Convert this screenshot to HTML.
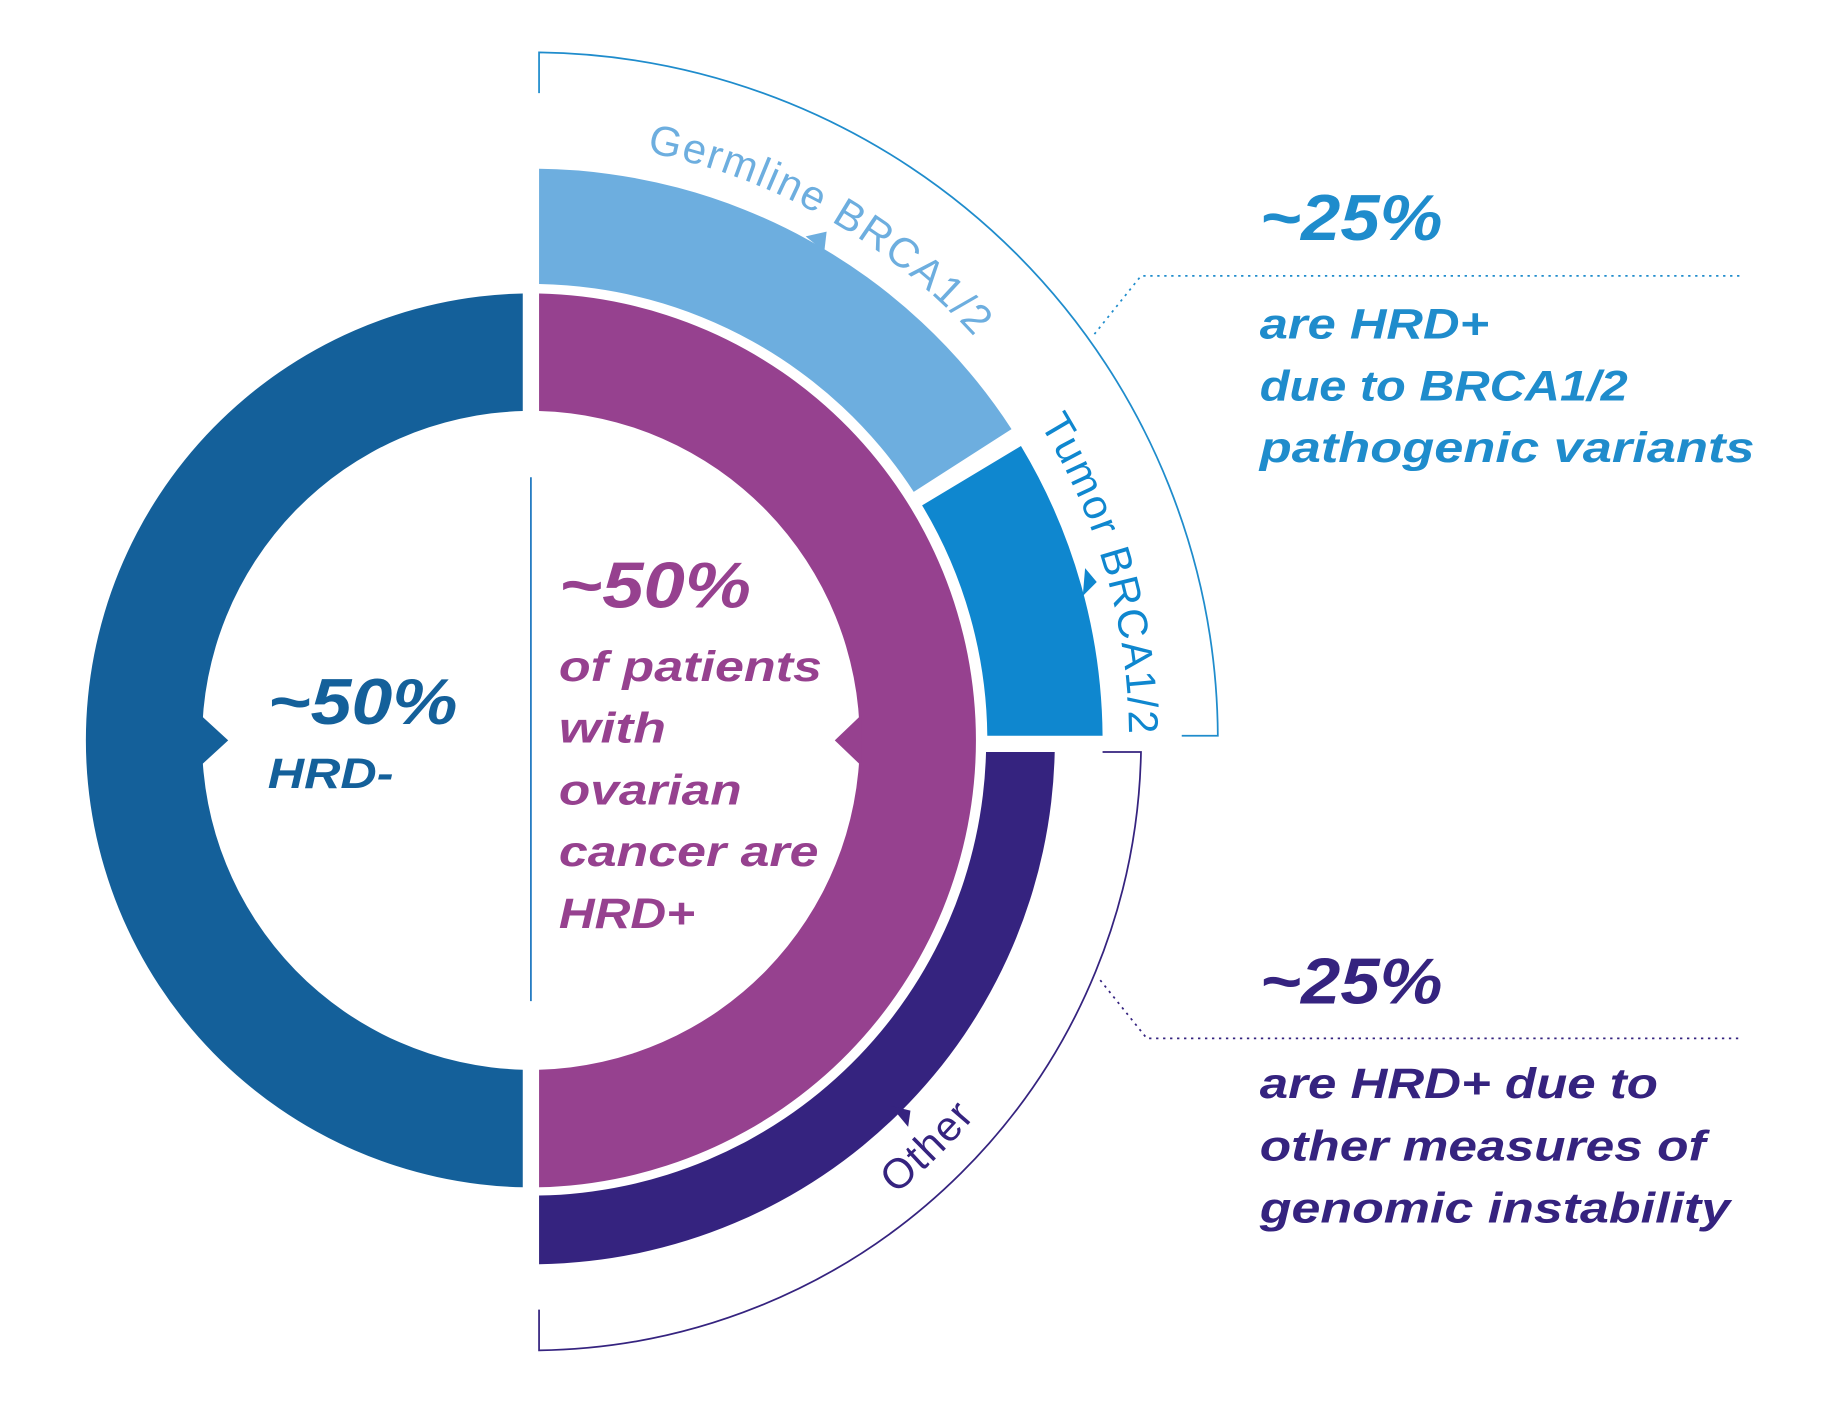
<!DOCTYPE html>
<html><head><meta charset="utf-8"><style>
html,body{margin:0;padding:0;background:#fff;}
svg{display:block;}
text{font-family:"Liberation Sans",sans-serif;font-weight:bold;font-style:italic;}
.arc{font-style:normal;font-weight:normal;font-size:36px;letter-spacing:1.5px;}
</style></head><body>
<svg width="1825" height="1408" viewBox="0 0 1567.5 1209.5" preserveAspectRatio="none" xmlns="http://www.w3.org/2000/svg">
<defs>
<path id="pg" d="M 456 121 A 515 515 0 0 1 971 636"/>
<path id="pt" d="M 456 121 A 513 513 0 0 1 969 660"/>
<path id="po" d="M 456 1136 A 500 500 0 0 0 956 636"/>
</defs>
<path d="M449,252.1 A384,384 0 0 0 449,1019.9 L449,918.9 A283,283 0 0 1 449,353.1 Z" fill="#14609a"/>
<polygon points="172,614 196,636 172,658" fill="#14609a"/>
<path d="M463,252.1 A384,384 0 0 1 463,1019.9 L463,918.9 A283,283 0 0 0 463,353.1 Z" fill="#96418f"/>
<polygon points="740,614 717,636 740,658" fill="#96418f"/>
<path d="M463,145 A491,491 0 0 1 868.8,368.6 L784.8,422.5 A392,392 0 0 0 463,244 Z" fill="#6daedf"/>
<polygon points="692,203 710,199 708,216" fill="#6daedf"/>
<path d="M876.9,383.1 A491,491 0 0 1 947,632 L848,632 A392,392 0 0 0 792,434.1 Z" fill="#0f87cf"/>
<polygon points="932,488 942,500 930,512" fill="#0f87cf"/>
<path d="M905.9,646 A450,450 0 0 1 463,1086 L463,1027 A391,391 0 0 0 846.9,646 Z" fill="#35237f"/>
<polygon points="765,950 782,954 780,968" fill="#35237f"/>
<line x1="456" y1="410" x2="456" y2="860" stroke="#1f78c0" stroke-width="1.5"/>
<path d="M463,80 L463,45 A591,591 0 0 1 1046,632 L1015,632" fill="none" stroke="#1f8ccc" stroke-width="1.5"/>
<path d="M947,646 L980,646 A524,524 0 0 1 463,1160 L463,1125" fill="none" stroke="#35237f" stroke-width="1.5"/>
<path d="M940,287 L980,237 L1495,237" fill="none" stroke="#1f8ccc" stroke-width="1.5" stroke-dasharray="2,4"/>
<path d="M945,842 L985,892 L1495,892" fill="none" stroke="#35237f" stroke-width="1.5" stroke-dasharray="2,4"/>
<text class="arc" fill="#6daedf"><textPath href="#pg" startOffset="100">Germline BRCA1/2</textPath></text>
<text class="arc" fill="#0f87cf"><textPath href="#pt" startOffset="522">Tumor BRCA1/2</textPath></text>
<text class="arc" fill="#35237f"><textPath href="#po" startOffset="338">Other</textPath></text>
<text x="230" y="622" font-size="56" fill="#14609a" textLength="163" lengthAdjust="spacingAndGlyphs">~50%</text>
<text x="230" y="677" font-size="37" fill="#14609a" textLength="108" lengthAdjust="spacingAndGlyphs">HRD-</text>
<g fill="#96418f">
<text x="480" y="522" font-size="56" textLength="165" lengthAdjust="spacingAndGlyphs">~50%</text>
<text x="480" y="585" font-size="37" textLength="226" lengthAdjust="spacingAndGlyphs">of patients</text>
<text x="480" y="638" font-size="37" textLength="92" lengthAdjust="spacingAndGlyphs">with</text>
<text x="480" y="691" font-size="37" textLength="157" lengthAdjust="spacingAndGlyphs">ovarian</text>
<text x="480" y="744" font-size="37" textLength="223" lengthAdjust="spacingAndGlyphs">cancer are</text>
<text x="480" y="797" font-size="37" textLength="117" lengthAdjust="spacingAndGlyphs">HRD+</text>
</g>
<g fill="#1f8ccc">
<text x="1082" y="206" font-size="56" textLength="157" lengthAdjust="spacingAndGlyphs">~25%</text>
<text x="1082" y="291" font-size="37" textLength="197" lengthAdjust="spacingAndGlyphs">are HRD+</text>
<text x="1082" y="344" font-size="37" textLength="316" lengthAdjust="spacingAndGlyphs">due to BRCA1/2</text>
<text x="1082" y="397" font-size="37" textLength="425" lengthAdjust="spacingAndGlyphs">pathogenic variants</text>
</g>
<g fill="#35237f">
<text x="1082" y="862" font-size="56" textLength="157" lengthAdjust="spacingAndGlyphs">~25%</text>
<text x="1082" y="943" font-size="37" textLength="342" lengthAdjust="spacingAndGlyphs">are HRD+ due to</text>
<text x="1082" y="997" font-size="37" textLength="383" lengthAdjust="spacingAndGlyphs">other measures of</text>
<text x="1082" y="1050" font-size="37" textLength="404" lengthAdjust="spacingAndGlyphs">genomic instability</text>
</g>
</svg>
</body></html>
